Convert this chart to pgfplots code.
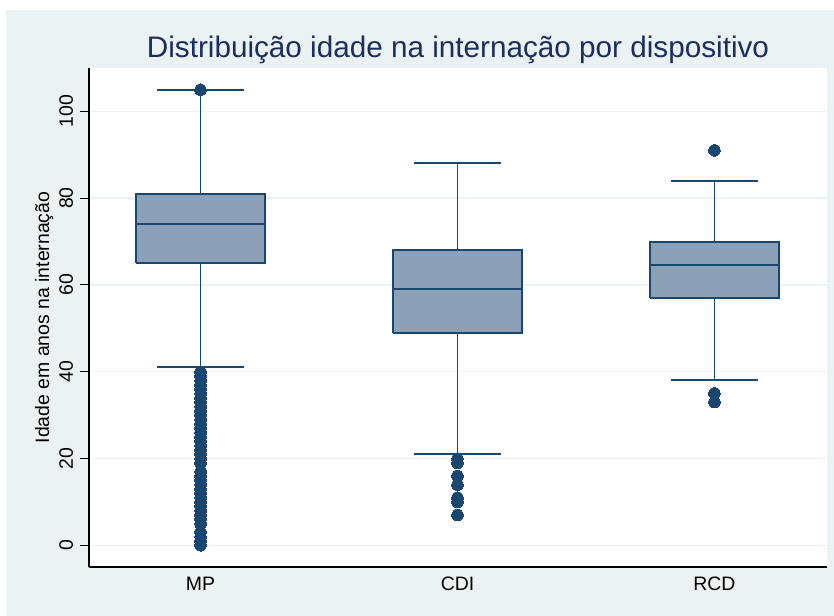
\documentclass[border=0pt]{standalone}
\usepackage{pgfplots}
\pgfplotsset{compat=1.18}
\usepackage{fontspec}
\setmainfont{Liberation Sans}
\definecolor{bgc}{HTML}{EAF2F3}
\definecolor{navy}{HTML}{1A476F}
\definecolor{boxfill}{HTML}{8CA1B7}
\definecolor{titlec}{HTML}{1C2E5E}
\tikzset{whsk/.style={draw=navy, line width=1.9bp}}
\begin{document}
\begin{tikzpicture}
\begin{scope}[x=1bp,y=1bp]
\path[use as bounding box, fill=white] (0,0) rectangle (834,616);
\fill[bgc] (6,0) rectangle (834,606);
\node[anchor=base, text=titlec, font=\fontsize{29.8}{34}\selectfont] at (458,558) {Distribuição idade na internação por dispositivo};
\end{scope}
\begin{axis}[
  at={(89bp,49bp)}, anchor=south west,
  scale only axis, width=738bp, height=499bp,
  xmin=0.566, xmax=3.438, ymin=-5, ymax=110,
  axis background/.style={fill=white},
  axis x line*=bottom, axis y line*=left,
  axis line style={-, line width=1.1bp, black},
  xtick={1,2,3}, xticklabels={MP,CDI,RCD},
  ytick={0,20,40,60,80,100},
  tick align=outside, major tick length=9bp,
  tick style={black, line width=1bp},
  xtick style={draw=none},
  ymajorgrids, grid style={bgc, line width=1.5bp},
  /pgf/number format/assume math mode=true,
  ticklabel style={font=\fontsize{19.5}{23}\selectfont, text=black},
  yticklabel style={anchor=base, xshift=-7bp, rotate=90},
  xticklabel style={anchor=base, yshift=-15bp},
  ylabel={Idade em anos na internação},
  every axis y label/.style={at={(axis description cs:0,0.5)}, anchor=base, xshift=-40bp, rotate=90, font=\fontsize{19.5}{23}\selectfont},
  bx/.style={draw=navy, fill=boxfill, line width=1.9bp, line join=miter},
  ol/.style={only marks, mark=*, mark size=5.8bp, mark options={fill=navy, draw=navy, line width=0pt}},
]
% MP
\addplot[bx] coordinates {(0.75,65) (1.25,65) (1.25,81) (0.75,81) (0.75,65)};
\addplot[whsk] coordinates {(0.75,74) (1.25,74)};
\addplot[whsk] coordinates {(1,81) (1,105)};
\addplot[whsk] coordinates {(0.8325,105) (1.1675,105)};
\addplot[whsk] coordinates {(1,65) (1,41)};
\addplot[whsk] coordinates {(0.8325,41) (1.1675,41)};
\addplot[ol] coordinates {(1,0) (1,1) (1,2) (1,3) (1,5) (1,6) (1,7) (1,8) (1,9) (1,10) (1,11) (1,12) (1,13) (1,14) (1,15) (1,16) (1,17) (1,19) (1,20) (1,21) (1,22) (1,23) (1,24) (1,25) (1,26) (1,27) (1,28) (1,29) (1,30) (1,31) (1,32) (1,33) (1,34) (1,35) (1,36) (1,37) (1,38) (1,39) (1,40) (1,105)};
% CDI
\addplot[bx] coordinates {(1.75,49) (2.25,49) (2.25,68) (1.75,68) (1.75,49)};
\addplot[whsk] coordinates {(1.75,59) (2.25,59)};
\addplot[whsk] coordinates {(2,68) (2,88)};
\addplot[whsk] coordinates {(1.8325,88) (2.1675,88)};
\addplot[whsk] coordinates {(2,49) (2,21)};
\addplot[whsk] coordinates {(1.8325,21) (2.1675,21)};
\addplot[ol] coordinates {(2,20) (2,19) (2,16) (2,14) (2,11) (2,10) (2,7)};
% RCD
\addplot[bx] coordinates {(2.75,57) (3.25,57) (3.25,70) (2.75,70) (2.75,57)};
\addplot[whsk] coordinates {(2.75,64.5) (3.25,64.5)};
\addplot[whsk] coordinates {(3,70) (3,84)};
\addplot[whsk] coordinates {(2.8325,84) (3.1675,84)};
\addplot[whsk] coordinates {(3,57) (3,38)};
\addplot[whsk] coordinates {(2.8325,38) (3.1675,38)};
\addplot[ol] coordinates {(3,91) (3,35) (3,33)};
\end{axis}
\end{tikzpicture}
\end{document}
